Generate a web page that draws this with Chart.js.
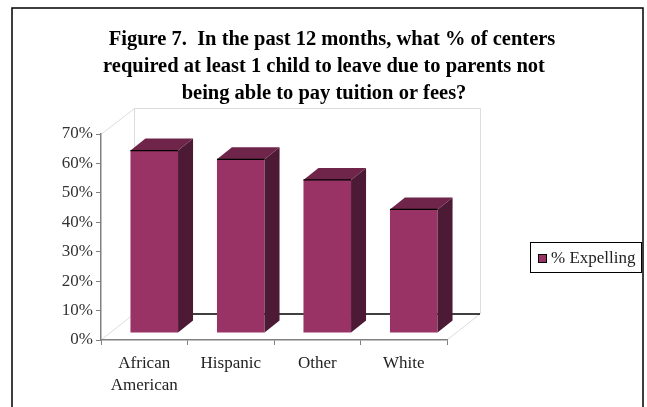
<!DOCTYPE html>
<html>
<head>
<meta charset="utf-8">
<script src="https://cdn.jsdelivr.net/npm/chart.js@4"></script>
<style>
  html, body { margin: 0; padding: 0; background: #fff; }
  #wrap { width: 647px; height: 407px; position: relative; }
</style>
</head>
<body>
<div id="wrap"><canvas id="myChart" width="647" height="407"></canvas></div>
<script>
// data
var categories = [['African', 'American'], 'Hispanic', 'Other', 'White'];
var expelling = [0.62, 0.59, 0.52, 0.42];
var seriesName = '% Expelling';
var titleLines = [
    'Figure 7.  In the past 12 months, what % of centers',
    'required at least 1 child to leave due to parents not',
    'being able to pay tuition or fees?'
];

var FRONT = '#993366', SIDE = '#4c1a35', TOP = '#6e2549';
var SERIF = '"Liberation Serif", "Times New Roman", serif';
var WALL = [33, -26];   // depth of the back wall
var SHIFT = [10, -7];   // bar front face offset
var DEPTH = [15, -12];  // bar depth

var threeD = {
    id: 'threeD',
    beforeDraw: function (chart) {
        var c = chart.ctx, a = chart.chartArea;
        c.save();
        // outer frame
        c.strokeStyle = '#000';
        c.lineWidth = 1.5;
        c.beginPath();
        c.moveTo(12, 407); c.lineTo(12, 8); c.lineTo(643, 8); c.lineTo(643, 407);
        c.stroke();
        // back wall + floor
        c.strokeStyle = '#dcdcdc';
        c.lineWidth = 1;
        var bl = a.left + WALL[0], bt = a.top + WALL[1], br = a.right + WALL[0], bb = a.bottom + WALL[1];
        c.beginPath();
        c.moveTo(a.left + 0.5, a.top); c.lineTo(bl + 0.5, bt + 0.5);
        c.lineTo(br + 0.5, bt + 0.5); c.lineTo(br + 0.5, bb);
        c.moveTo(bl + 0.5, bt); c.lineTo(bl + 0.5, bb);
        c.moveTo(a.left, a.bottom); c.lineTo(bl, bb);
        c.moveTo(a.right, a.bottom); c.lineTo(br, bb);
        c.stroke();
        c.strokeStyle = '#000';
        c.lineWidth = 1.5;
        c.beginPath();
        c.moveTo(bl, bb); c.lineTo(br, bb);
        c.stroke();
        c.restore();
    },
    beforeDatasetsDraw: function (chart) {
        chart.ctx.save();
        chart.ctx.translate(SHIFT[0], SHIFT[1]);
    },
    afterDatasetsDraw: function (chart) {
        var c = chart.ctx;
        chart.getDatasetMeta(0).data.forEach(function (bar) {
            var l = bar.x - bar.width / 2, r = bar.x + bar.width / 2, t = bar.y, b = bar.base;
            c.fillStyle = SIDE;
            c.beginPath();
            c.moveTo(r, t); c.lineTo(r + DEPTH[0], t + DEPTH[1]);
            c.lineTo(r + DEPTH[0], b + DEPTH[1]); c.lineTo(r, b);
            c.closePath(); c.fill();
            c.fillStyle = TOP;
            c.beginPath();
            c.moveTo(l, t); c.lineTo(l + DEPTH[0], t + DEPTH[1]);
            c.lineTo(r + DEPTH[0], t + DEPTH[1]); c.lineTo(r, t);
            c.closePath(); c.fill();
            c.strokeStyle = '#000';
            c.lineWidth = 1.2;
            c.beginPath(); c.moveTo(l, t); c.lineTo(r, t); c.stroke();
        });
        c.restore();
    },
    afterDraw: function (chart) {
        var c = chart.ctx;
        c.save();
        // title
        c.fillStyle = '#000';
        c.font = 'bold 20.5px ' + SERIF;
        c.textBaseline = 'alphabetic';
        c.textAlign = 'center';
        c.fillText(titleLines[0], 332, 45);
        c.fillText(titleLines[1], 324, 72);
        c.fillText(titleLines[2], 324, 99);
        // legend
        c.strokeStyle = '#000';
        c.lineWidth = 1;
        c.strokeRect(530.5, 242.5, 111, 30);
        c.fillStyle = FRONT;
        c.fillRect(538, 254, 8, 8);
        c.strokeRect(538.5, 254.5, 8, 8);
        c.fillStyle = '#222';
        c.font = '17px ' + SERIF;
        c.textAlign = 'left';
        c.textBaseline = 'middle';
        c.fillText(chart.data.datasets[0].label, 551, 259);
        c.restore();
    }
};

var ctx = document.getElementById('myChart').getContext('2d');
var myChart = new Chart(ctx, {
    type: 'bar',
    data: {
        labels: categories,
        datasets: [{
            label: seriesName,
            data: expelling,
            backgroundColor: FRONT,
            borderWidth: 0,
            barPercentage: 0.55,
            categoryPercentage: 1
        }]
    },
    options: {
        responsive: false,
        animation: false,
        layout: { padding: { left: 0, right: 200, top: 134, bottom: 0 } },
        plugins: {
            legend: { display: false },
            title: { display: false },
            tooltip: { enabled: false }
        },
        scales: {
            x: {
                grid: { drawOnChartArea: false, offset: true, tickLength: 5, color: '#808080' },
                border: { color: '#808080', width: 1.5 },
                ticks: { color: '#222', font: { family: SERIF, size: 17, lineHeight: 1.3 }, padding: 7, maxRotation: 0 },
                afterFit: function (scale) { scale.height = 67; }
            },
            y: {
                min: 0,
                max: 0.7,
                grid: { drawOnChartArea: false, tickLength: 5, color: '#808080' },
                border: { color: '#808080', width: 1.5 },
                ticks: {
                    stepSize: 0.1,
                    color: '#333',
                    font: { family: SERIF, size: 17 },
                    padding: 3,
                    callback: function (v) { return Math.round(v * 100) + '%'; }
                },
                afterFit: function (scale) { scale.width = 101; }
            }
        }
    },
    plugins: [threeD]
});
</script>
</body>
</html>
